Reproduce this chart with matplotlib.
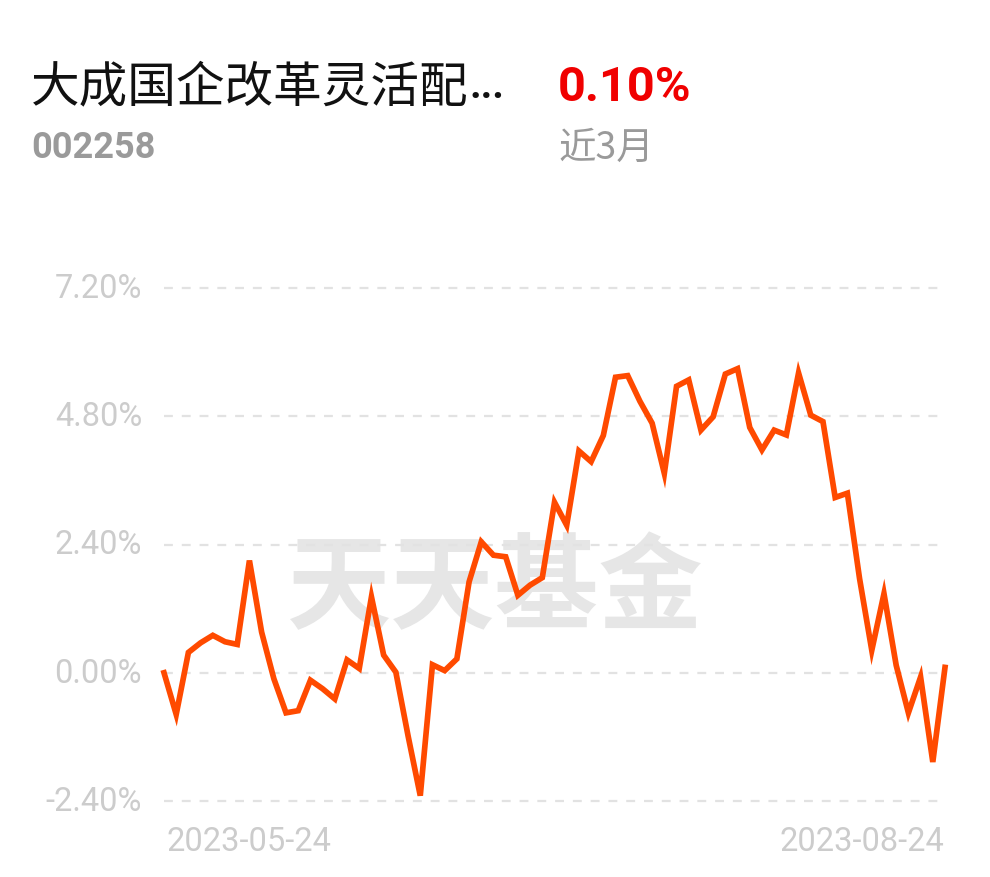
import matplotlib
matplotlib.use("Agg")
import matplotlib.pyplot as plt

plt.rcParams['font.family'] = ['Noto Sans CJK SC', 'DejaVu Sans']

# fund info
fund_name = "大成国企改革灵活配"
fund_code = "002258"
period_return = "0.10%"
period_label = "近3月"
watermark = "天天基金"

# cumulative return (%) over the last 3 months
returns = [
    0.00, -0.78, 0.38, 0.56, 0.70, 0.58, 0.53, 2.10, 0.76, -0.11,
    -0.75, -0.71, -0.14, -0.30, -0.49, 0.24, 0.08, 1.42, 0.33, 0.01,
    -1.18, -2.30, 0.15, 0.04, 0.26, 1.70, 2.45, 2.20, 2.17, 1.45,
    1.64, 1.78, 3.19, 2.76, 4.15, 3.95, 4.44, 5.53, 5.56, 5.08,
    4.67, 3.73, 5.36, 5.48, 4.54, 4.79, 5.59, 5.69, 4.59, 4.17,
    4.54, 4.45, 5.61, 4.82, 4.70, 3.28, 3.36, 1.76, 0.42, 1.48,
    0.14, -0.75, -0.08, -1.67, 0.10,
]
y_ticks = [7.2, 4.8, 2.4, 0.0, -2.4]
y_tick_labels = ["7.20%", "4.80%", "2.40%", "0.00%", "-2.40%"]
start_date = "2023-05-24"
end_date = "2023-08-24"

W, H = 990, 878
fig = plt.figure(figsize=(W / 100, H / 100), dpi=100)
fig.patch.set_facecolor("white")

# axes area in pixels
x0, x1 = 164, 945
y_top, y_bot = 289, 802
ax = fig.add_axes([x0 / W, (H - y_bot) / H, (x1 - x0) / W, (y_bot - y_top) / H])
ax.set_xlim(0, len(returns) - 1)
ax.set_ylim(-2.4, 7.2)
ax.axis("off")

# watermark, behind everything in the axes
ax.text(495 / W, 1 - 590 / H, watermark, fontsize=75, fontweight="bold",
        color="#e6e6e6", ha="center", va="center", zorder=0,
        transform=fig.transFigure)

# dashed grid
for t in y_ticks:
    ax.plot([0, len(returns) - 1.4], [t, t], color="#e2e2e2", lw=1.6,
            dashes=(4, 4), zorder=1, clip_on=False)

ax.plot(range(len(returns)), returns, color="#ff4a00", lw=4.1,
        solid_joinstyle="miter", zorder=3, clip_on=False)

# y tick labels
for t, lab in zip(y_ticks, y_tick_labels):
    ax.text(-22 / (x1 - x0) * (len(returns) - 1), t, lab, fontsize=23.5,
            family=["Roboto", "DejaVu Sans"], color="#cccccc",
            ha="right", va="center")

# date labels
fig.text(166 / W, 1 - 842 / H, start_date, fontsize=23.5,
         family=["Roboto", "DejaVu Sans"], color="#cccccc",
         ha="left", va="center")
fig.text(944 / W, 1 - 842 / H, end_date, fontsize=23.5,
         family=["Roboto", "DejaVu Sans"], color="#cccccc",
         ha="right", va="center")

# header
fig.text(31 / W, 1 - 88 / H, fund_name, fontsize=35, color="#111111",
         ha="left", va="center")
fig.text(469 / W, 1 - 98 / H, "...", fontsize=29, fontweight="bold",
         family=["Roboto", "DejaVu Sans"], color="#111111",
         ha="left", va="baseline")
fig.text(558 / W, 1 - 88 / H, period_return, fontsize=35, fontweight="bold",
         family=["Roboto", "DejaVu Sans"], color="#f00000",
         ha="left", va="center")
fig.text(31 / W, 1 - 148 / H, fund_code, fontsize=26, fontweight="bold",
         family=["Roboto", "DejaVu Sans"], color="#9a9a9a",
         ha="left", va="center")
fig.text(558 / W, 1 - 148 / H, period_label, fontsize=27, color="#9a9a9a",
         ha="left", va="center")

fig.savefig("out.png", dpi=100, facecolor="white")
